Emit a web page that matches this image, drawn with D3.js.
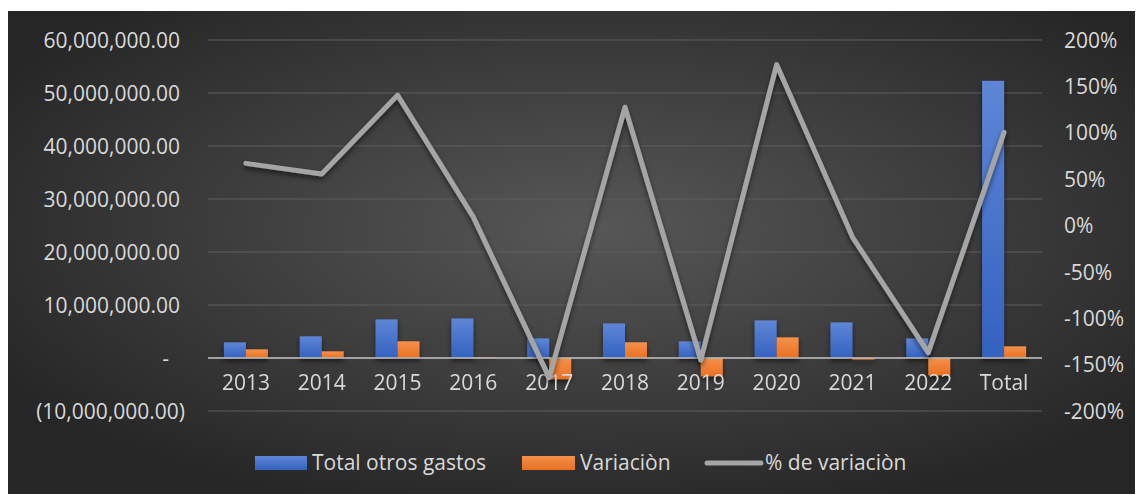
<!DOCTYPE html>
<meta charset="utf-8">
<head>
  <title>Total otros gastos</title>
</head>

<style>
body {
  margin: 0;
  background: #fff;
}

#chart text {
  fill: #d9d9d9;
  font-family: "Open Sans", sans-serif;
  font-size: 21px;
}

#chart .domain { display: none; }
#chart .tick line { display: none; }
</style>

<body>
  <div id="chart"></div>

  <script src="https://cdnjs.cloudflare.com/ajax/libs/d3/7.8.5/d3.min.js"></script>

  <script>
  // values
  var categories = ["2013", "2014", "2015", "2016", "2017", "2018", "2019", "2020", "2021", "2022", "Total"];
  var totalGastos = [2950000, 4090000, 7290000, 7470000, 3700000, 6530000, 3140000, 7100000, 6720000, 3700000, 52300000];
  var variacion = [1640000, 1260000, 3150000, 180000, -4000000, 2960000, -3450000, 3900000, -300000, -3260000, 2200000];
  var pctVariacion = [67, 55.5, 140.5, 9, -164, 127.5, -145, 173.5, -12.5, -137, 100.5];
  var leftTicks = [-10000000, 0, 10000000, 20000000, 30000000, 40000000, 50000000, 60000000];
  var rightTicks = [-200, -150, -100, -50, 0, 50, 100, 150, 200];
  var seriesNames = ["Total otros gastos", "Variaciòn", "% de variaciòn"];

  var W = 1141, H = 494;
  var plot = { left: 208, right: 1042, top: 40, bottom: 411 };

  var svg = d3.select("#chart").append("svg")
    .attr("width", W)
    .attr("height", H);

  var defs = svg.append("defs");

  var bg = defs.append("radialGradient").attr("id", "bg")
    .attr("cx", "52%").attr("cy", "45%").attr("r", "62%");
  bg.append("stop").attr("offset", "0%").attr("stop-color", "#575757");
  bg.append("stop").attr("offset", "100%").attr("stop-color", "#262626");

  var gBlue = defs.append("linearGradient").attr("id", "gBlue")
    .attr("x1", 0).attr("y1", 0).attr("x2", 0).attr("y2", 1);
  gBlue.append("stop").attr("offset", "0%").attr("stop-color", "#5e86d6");
  gBlue.append("stop").attr("offset", "100%").attr("stop-color", "#3462c0");

  var gOrange = defs.append("linearGradient").attr("id", "gOrange")
    .attr("x1", 0).attr("y1", 0).attr("x2", 0).attr("y2", 1);
  gOrange.append("stop").attr("offset", "0%").attr("stop-color", "#f4914c");
  gOrange.append("stop").attr("offset", "100%").attr("stop-color", "#ea7020");

  var shadow = defs.append("filter").attr("id", "shadow")
    .attr("x", "-20%").attr("y", "-20%").attr("width", "140%").attr("height", "160%");
  shadow.append("feDropShadow")
    .attr("dx", 0).attr("dy", 3).attr("stdDeviation", 2.5)
    .attr("flood-color", "#000").attr("flood-opacity", 0.55);

  svg.append("rect")
    .attr("x", 8).attr("y", 11)
    .attr("width", 1127).attr("height", H - 11)
    .attr("fill", "url(#bg)");

  var x0 = d3.scaleBand()
    .domain(categories)
    .range([plot.left, plot.right])
    .paddingInner(0.42)
    .paddingOuter(0.21);

  var x1 = d3.scaleBand()
    .domain([0, 1])
    .range([0, x0.bandwidth()]);

  var y = d3.scaleLinear()
    .domain([-10000000, 60000000])
    .range([plot.bottom, plot.top]);

  var y2 = d3.scaleLinear()
    .domain([-200, 200])
    .range([plot.bottom, plot.top]);

  // gridlines
  svg.append("g")
    .selectAll("line")
    .data(leftTicks.filter(function(d) { return d !== 0; }))
    .join("line")
    .attr("x1", plot.left).attr("x2", plot.right)
    .attr("y1", function(d) { return y(d); })
    .attr("y2", function(d) { return y(d); })
    .attr("stroke", "#5e5e5e")
    .attr("stroke-width", 1.2);

  // left axis
  var fmt = d3.format(",.2f");
  var yAxis = svg.append("g")
    .attr("transform", "translate(180,0)")
    .call(d3.axisLeft(y).tickValues(leftTicks).tickSize(0).tickPadding(0)
      .tickFormat(function(d) {
        if (d === 0) return "-";
        if (d < 0) return "(" + fmt(-d) + ")";
        return fmt(d);
      }));
  yAxis.selectAll(".tick text")
    .attr("dy", "0.34em")
    .attr("dx", function(d) { return d < 0 ? 5 : (d === 0 ? -11 : 0); });

  // right axis
  var yAxis2 = svg.append("g")
    .attr("transform", "translate(1064,0)")
    .call(d3.axisRight(y2).tickValues(rightTicks).tickSize(0).tickPadding(0)
      .tickFormat(function(d) { return d + "%"; }));
  yAxis2.selectAll(".tick text").attr("dy", "0.34em");

  // bars
  var groups = svg.append("g")
    .attr("filter", "url(#shadow)")
    .selectAll("g")
    .data(categories)
    .join("g")
    .attr("transform", function(d) { return "translate(" + x0(d) + ",0)"; });

  groups.selectAll("rect")
    .data(function(d, i) { return [totalGastos[i], variacion[i]]; })
    .join("rect")
    .attr("x", function(d, j) { return x1(j); })
    .attr("width", x1.bandwidth())
    .attr("y", function(d) { return y(Math.max(0, d)); })
    .attr("height", function(d) { return Math.abs(y(d) - y(0)); })
    .attr("fill", function(d, j) { return j === 0 ? "url(#gBlue)" : "url(#gOrange)"; });

  // zero line
  svg.append("line")
    .attr("x1", plot.left).attr("x2", plot.right)
    .attr("y1", y(0)).attr("y2", y(0))
    .attr("stroke", "#b5b5b5")
    .attr("stroke-opacity", 0.85)
    .attr("stroke-width", 2);

  // category axis
  svg.append("g")
    .attr("transform", "translate(0," + y(0) + ")")
    .call(d3.axisBottom(x0).tickSize(0).tickPadding(17));

  // percentage line
  var line = d3.line()
    .x(function(d, i) { return x0(categories[i]) + x0.bandwidth() / 2; })
    .y(function(d) { return y2(d); });

  svg.append("path")
    .datum(pctVariacion)
    .attr("d", line)
    .attr("fill", "none")
    .attr("stroke", "#a5a5a5")
    .attr("stroke-width", 5)
    .attr("stroke-linecap", "round")
    .attr("stroke-linejoin", "round")
    .attr("filter", "url(#shadow)");

  // legend
  var legend = svg.append("g");
  var legendX = [255, 522, 705];
  var legendY = 463;

  legend.append("rect")
    .attr("x", legendX[0]).attr("y", legendY - 7)
    .attr("width", 52).attr("height", 14)
    .attr("fill", "url(#gBlue)");
  legend.append("rect")
    .attr("x", legendX[1]).attr("y", legendY - 7)
    .attr("width", 53).attr("height", 14)
    .attr("fill", "url(#gOrange)");
  legend.append("line")
    .attr("x1", legendX[2] + 2).attr("x2", legendX[2] + 56)
    .attr("y1", legendY).attr("y2", legendY)
    .attr("stroke", "#a5a5a5")
    .attr("stroke-width", 5)
    .attr("stroke-linecap", "round");

  legend.selectAll("text")
    .data(seriesNames)
    .join("text")
    .attr("x", function(d, i) { return legendX[i] + [57, 58, 60][i]; })
    .attr("y", legendY)
    .attr("dy", "0.34em")
    .text(function(d) { return d; });
  </script>
</body>
</html>
